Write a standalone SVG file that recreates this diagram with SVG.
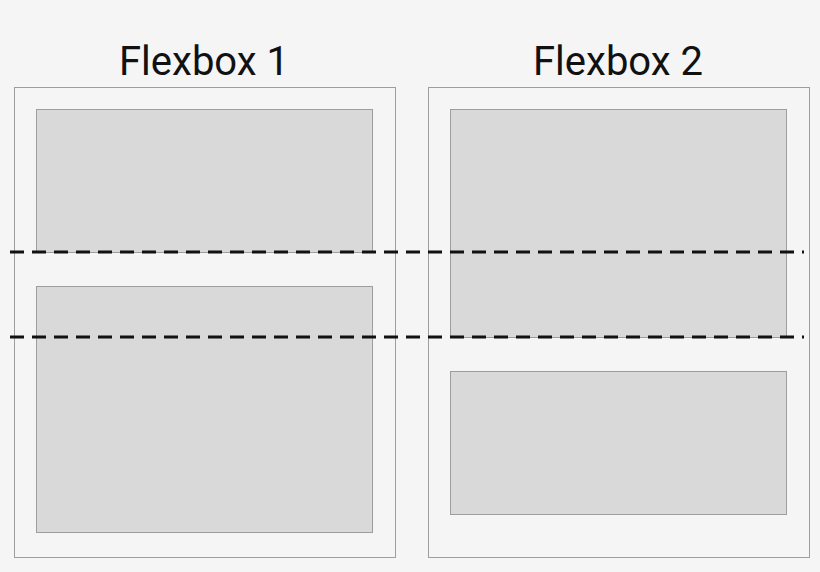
<svg xmlns="http://www.w3.org/2000/svg" width="820" height="572" viewBox="0 0 820 572">
<style>
.outer{fill:#f5f5f5;stroke:#9e9e9e;stroke-width:1}
.inner{fill:#d9d9d9;stroke:#9e9e9e;stroke-width:1}
.t{font-family:Roboto,"Liberation Sans",sans-serif;font-size:40px;fill:#111;text-anchor:middle}
.d{stroke:#111;stroke-width:3;stroke-dasharray:14 8;fill:none}
</style>
<rect width="820" height="572" fill="#f5f5f5"/>
<g id="flexbox1">
<text class="t" x="204" y="75">Flexbox 1</text>
<rect class="outer" x="14.5" y="87.5" width="381" height="470"/>
<rect class="inner" x="36.5" y="109.5" width="336" height="143"/>
<rect class="inner" x="36.5" y="286.5" width="336" height="246"/>
</g>
<g id="flexbox2">
<text class="t" x="618" y="75">Flexbox 2</text>
<rect class="outer" x="428.5" y="87.5" width="381" height="470"/>
<rect class="inner" x="450.5" y="109.5" width="336" height="228"/>
<rect class="inner" x="450.5" y="371.5" width="336" height="143"/>
</g>
<g id="connectors">
<line class="d" x1="10" y1="252" x2="804" y2="252"/>
<line class="d" x1="10" y1="337" x2="804" y2="337"/>
</g>
</svg>
